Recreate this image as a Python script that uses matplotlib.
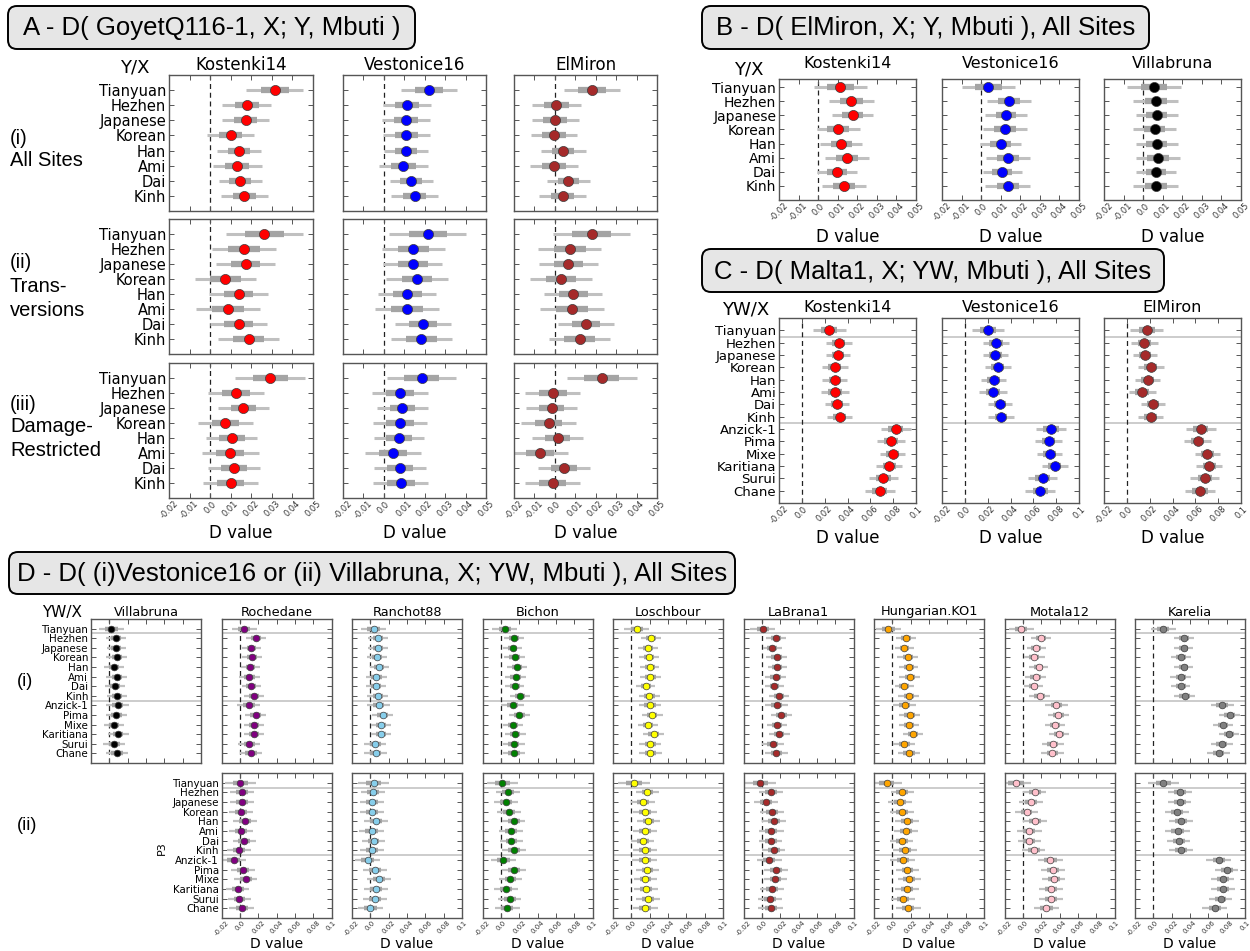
import numpy as np
import matplotlib
matplotlib.use('Agg')
import matplotlib.pyplot as plt
from matplotlib.patches import FancyBboxPatch

plt.rcParams['font.family'] = ['DejaVu Sans']

# populations (rows)
pops8 = ['Tianyuan', 'Hezhen', 'Japanese', 'Korean', 'Han', 'Ami', 'Dai', 'Kinh']
pops14 = pops8 + ['Anzick-1', 'Pima', 'Mixe', 'Karitiana', 'Surui', 'Chane']

ticks_a = [-0.02, -0.01, 0.0, 0.01, 0.02, 0.03, 0.04, 0.05]
ticklab_a = ['-0.02', '-0.01', '0.0', '0.01', '0.02', '0.03', '0.04', '0.05']
ticks_c = [-0.02, 0.0, 0.02, 0.04, 0.06, 0.08, 0.1]
ticklab_c = ['-0.02', '0.0', '0.02', '0.04', '0.06', '0.08', '0.1']

# A - D(GoyetQ116-1, X; Y, Mbuti)
a_cols = ['Kostenki14', 'Vestonice16', 'ElMiron']
a_colors = ['red', 'blue', 'brown']
a_rows = [['(i)', 'All Sites'], ['(ii)', 'Trans-', 'versions'], ['(iii)', 'Damage-', 'Restricted']]
a_i_k14 = [0.0314, 0.0178, 0.0172, 0.0100, 0.0140, 0.0132, 0.0147, 0.0166]
a_i_v16 = [0.0221, 0.0115, 0.0108, 0.0110, 0.0110, 0.0096, 0.0134, 0.0151]
a_i_elm = [0.0182, 0.0008, 0.0002, -0.0004, 0.0042, -0.0004, 0.0066, 0.0038]
a_ii_k14 = [0.0263, 0.0164, 0.0172, 0.0074, 0.0138, 0.0087, 0.0138, 0.0187]
a_ii_v16 = [0.0215, 0.0145, 0.0142, 0.0162, 0.0115, 0.0115, 0.0191, 0.0183]
a_ii_elm = [0.0180, 0.0072, 0.0066, 0.0030, 0.0091, 0.0083, 0.0151, 0.0121]
a_iii_k14 = [0.0293, 0.0128, 0.0162, 0.0074, 0.0106, 0.0098, 0.0117, 0.0100]
a_iii_v16 = [0.0185, 0.0079, 0.0091, 0.0079, 0.0074, 0.0045, 0.0079, 0.0083]
a_iii_elm = [0.0230, -0.0011, -0.0015, -0.0030, 0.0013, -0.0074, 0.0045, -0.0011]
a_se_i = [0.0069, 0.0059, 0.0058, 0.0057, 0.0054, 0.0059, 0.0053, 0.0057]
a_se_ii = [0.0094, 0.0078, 0.0072, 0.0075, 0.0071, 0.0078, 0.0069, 0.0075]
a_se_iii = [0.0085, 0.0068, 0.0062, 0.0067, 0.0062, 0.0069, 0.0063, 0.0067]

# B - D(ElMiron, X; Y, Mbuti)
b_cols = ['Kostenki14', 'Vestonice16', 'Villabruna']
b_colors = ['red', 'blue', 'black']
b_k14 = [0.0113, 0.0170, 0.0176, 0.0102, 0.0118, 0.0148, 0.0096, 0.0133]
b_v16 = [0.0037, 0.0142, 0.0127, 0.0122, 0.0099, 0.0136, 0.0109, 0.0136]
b_vil = [0.0055, 0.0064, 0.0070, 0.0059, 0.0070, 0.0074, 0.0064, 0.0064]
b_se = [0.0068, 0.0057, 0.0053, 0.0055, 0.0053, 0.0056, 0.0051, 0.0057]

# C - D(Malta1, X; YW, Mbuti)
c_cols = ['Kostenki14', 'Vestonice16', 'ElMiron']
c_colors = ['red', 'blue', 'brown']
c_k14 = [0.0240, 0.0324, 0.0318, 0.0289, 0.0289, 0.0292, 0.0311, 0.0330,
         0.0824, 0.0782, 0.0795, 0.0766, 0.0715, 0.0683]
c_v16 = [0.0203, 0.0274, 0.0268, 0.0290, 0.0252, 0.0248, 0.0306, 0.0316,
         0.0755, 0.0733, 0.0742, 0.0787, 0.0681, 0.0659]
c_elm = [0.0176, 0.0154, 0.0160, 0.0208, 0.0183, 0.0135, 0.0231, 0.0208,
         0.0647, 0.0619, 0.0705, 0.0721, 0.0683, 0.0641]
c_se = [0.0072, 0.0058, 0.0054, 0.0057, 0.0055, 0.0060, 0.0052, 0.0056,
        0.0066, 0.0060, 0.0056, 0.0057, 0.0063, 0.0066]

# D - D((i) Vestonice16 or (ii) Villabruna, X; YW, Mbuti)
d_cols = ['Villabruna', 'Rochedane', 'Ranchot88', 'Bichon', 'Loschbour',
          'LaBrana1', 'Hungarian.KO1', 'Motala12', 'Karelia']
d_colors = ['black', 'purple', 'skyblue', 'green', 'yellow',
            'brown', 'orange', 'pink', 'gray']
d_i_villabruna = [0.0022, 0.0072, 0.0076, 0.0080, 0.0051, 0.0083, 0.0062, 0.0083,
                  0.0090, 0.0076, 0.0047, 0.0098, 0.0051, 0.0083]
d_i_rochedane = [0.0047, 0.0180, 0.0127, 0.0134, 0.0116, 0.0105, 0.0123, 0.0152,
                 0.0098, 0.0174, 0.0159, 0.0152, 0.0105, 0.0123]
d_i_ranchot88 = [0.0036, 0.0080, 0.0083, 0.0072, 0.0098, 0.0065, 0.0062, 0.0080,
                 0.0091, 0.0134, 0.0116, 0.0116, 0.0054, 0.0058]
d_i_bichon = [0.0044, 0.0140, 0.0128, 0.0150, 0.0176, 0.0161, 0.0154, 0.0209,
              0.0128, 0.0201, 0.0136, 0.0158, 0.0143, 0.0143]
d_i_loschbour = [0.0059, 0.0212, 0.0180, 0.0194, 0.0201, 0.0209, 0.0158, 0.0198,
                 0.0205, 0.0227, 0.0180, 0.0242, 0.0209, 0.0209]
d_i_labrana1 = [0.0011, 0.0150, 0.0114, 0.0161, 0.0168, 0.0150, 0.0136, 0.0187,
                0.0161, 0.0212, 0.0161, 0.0190, 0.0121, 0.0157]
d_i_hungarian = [-0.0044, 0.0147, 0.0132, 0.0168, 0.0179, 0.0190, 0.0128, 0.0179,
                 0.0135, 0.0190, 0.0179, 0.0227, 0.0128, 0.0183]
d_i_motala12 = [-0.0018, 0.0194, 0.0147, 0.0125, 0.0172, 0.0139, 0.0117, 0.0183,
                0.0366, 0.0388, 0.0355, 0.0392, 0.0326, 0.0322]
d_i_karelia = [0.0106, 0.0333, 0.0330, 0.0300, 0.0330, 0.0300, 0.0300, 0.0340,
               0.0751, 0.0832, 0.0762, 0.0824, 0.0744, 0.0714]
d_ii_rochedane = [0.0007, 0.0022, 0.0022, 0.0014, 0.0054, 0.0011, 0.0047, -0.0007,
                  -0.0069, 0.0033, 0.0065, -0.0025, -0.0004, 0.0022]
d_ii_ranchot88 = [0.0036, 0.0025, 0.0022, 0.0022, 0.0058, 0.0014, 0.0036, 0.0018,
                  -0.0029, 0.0047, 0.0094, 0.0058, 0.0047, 0.0000]
d_ii_bichon = [0.0018, 0.0080, 0.0059, 0.0092, 0.0139, 0.0110, 0.0114, 0.0147,
               0.0029, 0.0143, 0.0103, 0.0055, 0.0095, 0.0070]
d_ii_loschbour = [0.0029, 0.0176, 0.0125, 0.0147, 0.0187, 0.0147, 0.0125, 0.0147,
                  0.0147, 0.0176, 0.0154, 0.0158, 0.0183, 0.0150]
d_ii_labrana1 = [-0.0015, 0.0099, 0.0048, 0.0114, 0.0136, 0.0103, 0.0099, 0.0128,
                 0.0081, 0.0154, 0.0147, 0.0110, 0.0088, 0.0099]
d_ii_hungarian = [-0.0062, 0.0110, 0.0084, 0.0103, 0.0157, 0.0147, 0.0103, 0.0135,
                  0.0114, 0.0165, 0.0183, 0.0157, 0.0114, 0.0172]
d_ii_motala12 = [-0.0077, 0.0128, 0.0088, 0.0040, 0.0136, 0.0070, 0.0070, 0.0117,
                 0.0300, 0.0330, 0.0337, 0.0304, 0.0311, 0.0256]
d_ii_karelia = [0.0110, 0.0293, 0.0286, 0.0256, 0.0304, 0.0264, 0.0278, 0.0300,
                0.0714, 0.0799, 0.0758, 0.0762, 0.0733, 0.0670]
d_se_i = [0.0068, 0.0055, 0.0053, 0.0056, 0.0053, 0.0057, 0.0052, 0.0056,
          0.0062, 0.0058, 0.0055, 0.0056, 0.0060, 0.0062]
d_se_ii = [0.0085, 0.0065, 0.0065, 0.0065, 0.0065, 0.0067, 0.0063, 0.0065,
           0.0068, 0.0065, 0.0063, 0.0065, 0.0065, 0.0068]

W, H = 1250, 951
fig = plt.figure(figsize=(W / 100, H / 100), dpi=100)

# overlay in pixel coordinates for boxes and loose labels
ov = fig.add_axes([0, 0, 1, 1])
ov.set_xlim(0, W)
ov.set_ylim(H, 0)
ov.axis('off')


def title_box(x0, y0, x1, y1, s):
    ov.add_patch(FancyBboxPatch((x0, y0), x1 - x0, y1 - y0,
                                boxstyle='round,pad=0,rounding_size=9',
                                fc='#e6e6e6', ec='black', lw=1.4))
    ov.text((x0 + x1) / 2, (y0 + y1) / 2 + 1, s, ha='center', va='center',
            fontsize=18.5, family='Liberation Sans')


def forest(box, vals, se, color, ylim, ticks, ticklab, show_x, labels, yfs,
           ms, lws, tfs, seps=()):
    x0, y0, x1, y1 = box
    ax = fig.add_axes([x0 / W, 1 - y1 / H, (x1 - x0) / W, (y1 - y0) / H])
    vals = np.array(vals)
    se = np.array(se)
    y = np.arange(len(vals))
    for s in seps:
        ax.axhline(s, color='#c8c8c8', lw=1.3, zorder=1)
    ax.axvline(0, color='#222222', ls=(0, (4, 3)), lw=0.9, zorder=1)
    ax.hlines(y, vals - 2 * se, vals + 2 * se, color='#c0c0c0', lw=lws[0],
              capstyle='butt', zorder=2)
    ax.hlines(y, vals - se, vals + se, color='#a4a4a4', lw=lws[1],
              capstyle='butt', zorder=3)
    ax.plot(vals, y, 'o', color=color, ms=ms, mec='#3c3c3c', mew=0.5, zorder=4)
    ax.set_xlim(ticks[0], ticks[-1])
    ax.set_ylim(*ylim)
    ax.set_xticks(ticks)
    ax.set_yticks(y)
    if show_x:
        ax.set_xticklabels(ticklab, rotation=45, fontsize=tfs, color='#333333')
    else:
        ax.set_xticklabels([])
    if labels:
        ax.set_yticklabels(labels, fontsize=yfs)
    else:
        ax.set_yticklabels([])
    ax.tick_params(direction='in', top=True, right=True, length=3.5,
                   width=0.7, color='#555555', pad=2)
    ax.tick_params(axis='x', pad=1)
    for sp in ax.spines.values():
        sp.set_color('#555555')
        sp.set_linewidth(1.0)
    return ax


# ---------------- panel A ----------------
title_box(8, 6, 415, 49, 'A - D( GoyetQ116-1, X; Y, Mbuti )')
a_data = [[a_i_k14, a_i_v16, a_i_elm],
          [a_ii_k14, a_ii_v16, a_ii_elm],
          [a_iii_k14, a_iii_v16, a_iii_elm]]
a_se = [a_se_i, a_se_ii, a_se_iii]
a_x = [(169, 313), (343, 486), (514, 657)]
a_y = [(75, 211), (219, 354), (363, 498)]
for r in range(3):
    for c in range(3):
        forest((a_x[c][0], a_y[r][0], a_x[c][1], a_y[r][1]), a_data[r][c], a_se[r],
               a_colors[c], (8, -1), ticks_a, ticklab_a, r == 2,
               pops8 if c == 0 else None, 10.5, 7.3, (2.2, 4.5), 6)
for c in range(3):
    xc = sum(a_x[c]) / 2
    ov.text(xc, 65, a_cols[c], ha='center', va='center', fontsize=12)
    ov.text(xc, 533, 'D value', ha='center', va='center', fontsize=12)
ov.text(135, 68, 'Y/X', ha='center', va='center', fontsize=13)
a_label_y = [[138, 160], [262, 287, 310], [404, 427, 450]]
for r in range(3):
    for s, yy in zip(a_rows[r], a_label_y[r]):
        ov.text(10, yy, s, ha='left', va='center', fontsize=14.5, family='Liberation Sans')

# ---------------- panel B ----------------
bc_x = [(779, 916), (942, 1079), (1104, 1241)]
title_box(702, 6, 1149, 49, 'B - D( ElMiron, X; Y, Mbuti ), All Sites')
b_data = [b_k14, b_v16, b_vil]
for c in range(3):
    forest((bc_x[c][0], 79, bc_x[c][1], 200), b_data[c], b_se, b_colors[c],
           (8, -0.57), ticks_a, ticklab_a, True, pops8 if c == 0 else None,
           10, 7.3, (2.2, 4.5), 6)
    xc = sum(bc_x[c]) / 2
    ov.text(xc, 63, b_cols[c], ha='center', va='center', fontsize=11.5)
    ov.text(xc, 237, 'D value', ha='center', va='center', fontsize=12)
ov.text(749, 69, 'Y/X', ha='center', va='center', fontsize=13)

# ---------------- panel C ----------------
title_box(702, 249, 1164, 292, 'C - D( Malta1, X; YW, Mbuti ), All Sites')
c_data = [c_k14, c_v16, c_elm]
for c in range(3):
    forest((bc_x[c][0], 318, bc_x[c][1], 503), c_data[c], c_se, c_colors[c],
           (14, -1), ticks_c, ticklab_c, True, pops14 if c == 0 else None,
           9.5, 7, (2.2, 4.5), 6, seps=(0.5, 7.5))
    xc = sum(bc_x[c]) / 2
    ov.text(xc, 308, c_cols[c], ha='center', va='center', fontsize=11.5)
    ov.text(xc, 538, 'D value', ha='center', va='center', fontsize=12)
ov.text(746, 309, 'YW/X', ha='center', va='center', fontsize=13)

# ---------------- panel D ----------------
title_box(9, 552, 735, 594, 'D - D( (i)Vestonice16 or (ii) Villabruna, X; YW, Mbuti ), All Sites')
d_i = [d_i_villabruna, d_i_rochedane, d_i_ranchot88, d_i_bichon, d_i_loschbour,
       d_i_labrana1, d_i_hungarian, d_i_motala12, d_i_karelia]
d_ii = [None, d_ii_rochedane, d_ii_ranchot88, d_ii_bichon, d_ii_loschbour,
        d_ii_labrana1, d_ii_hungarian, d_ii_motala12, d_ii_karelia]
for c in range(9):
    x0 = 91 + c * 130.5
    x1 = x0 + 110
    forest((x0, 619, x1, 763), d_i[c], d_se_i, d_colors[c], (14, -1),
           ticks_c, ticklab_c, False, pops14 if c == 0 else None,
           7.4, 4.8, (1.6, 3.2), 5, seps=(0.5, 7.5))
    ov.text((x0 + x1) / 2, 612, d_cols[c], ha='center', va='center', fontsize=9.3)
    if d_ii[c] is not None:
        forest((x0, 773, x1, 918), d_ii[c], d_se_ii, d_colors[c], (14, -1),
               ticks_c, ticklab_c, True, pops14 if c == 1 else None,
               7.4, 4.8, (1.6, 3.2), 5, seps=(0.5, 7.5))
        ov.text((x0 + x1) / 2, 944, 'D value', ha='center', va='center', fontsize=10)
ov.text(62, 612, 'YW/X', ha='center', va='center', fontsize=11)
ov.text(17, 682, '(i)', ha='left', va='center', fontsize=13, family='Liberation Sans')
ov.text(17, 825, '(ii)', ha='left', va='center', fontsize=13, family='Liberation Sans')
ov.text(162, 848, 'P3', ha='center', va='center', fontsize=8, rotation=90)

fig.savefig('out.png', dpi=100)
